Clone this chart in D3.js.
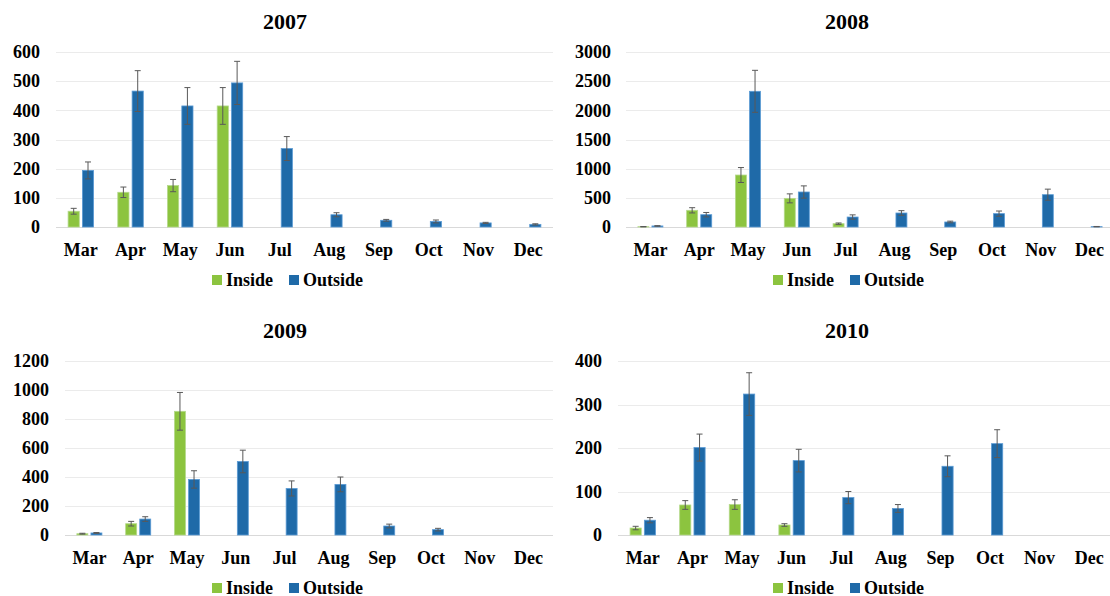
<!DOCTYPE html>
<html>
<head>
<meta charset="utf-8">
<script src="https://cdn.jsdelivr.net/npm/d3@7"></script>
<style>
  body { margin: 0; background: #fff; }
  svg text { font-family: "Liberation Serif", "Times New Roman", serif; font-weight: bold; fill: #000; }
</style>
</head>
<body>
<svg id="chart" width="1110" height="596"></svg>
<script>
	// months shared by all four panels
	var months = ["Mar", "Apr", "May", "Jun", "Jul", "Aug", "Sep", "Oct", "Nov", "Dec"];
	var seriesNames = ["Inside", "Outside"];

	var inside2007 = [54, 119, 142, 415, null, null, null, null, null, null];
	var insideErr2007 = [10, 18, 21, 63, null, null, null, null, null, null];
	var outside2007 = [194, 466, 415, 494, 269, 42, 23, 19, 14, 9];
	var outsideErr2007 = [29, 70, 63, 74, 41, 7, 3, 5, 2, 2];
	var ticks2007 = [0, 100, 200, 300, 400, 500, 600];

	var inside2008 = [5, 286, 891, 491, 57, null, null, null, null, null];
	var insideErr2008 = [3, 45, 128, 77, 12, null, null, null, null, null];
	var outside2008 = [18, 211, 2326, 600, 171, 240, 86, 229, 554, 6];
	var outsideErr2008 = [5, 38, 360, 105, 37, 40, 14, 45, 95, 3];
	var ticks2008 = [0, 500, 1000, 1500, 2000, 2500, 3000];

	var inside2009 = [9, 78, 853, null, null, null, null, null, null, null];
	var insideErr2009 = [3, 16, 130, null, null, null, null, null, null, null];
	var outside2009 = [14, 110, 383, 507, 321, 349, 62, 37, null, null];
	var outsideErr2009 = [3, 16, 60, 78, 52, 51, 13, 9, null, null];
	var ticks2009 = [0, 200, 400, 600, 800, 1000, 1200];

	var inside2010 = [16, 69, 70, 23, null, null, null, null, null, null];
	var insideErr2010 = [4, 10, 11, 3, null, null, null, null, null, null];
	var outside2010 = [34, 201, 324, 171, 86, 61, 158, 210, null, null];
	var outsideErr2010 = [6, 31, 49, 26, 14, 9, 24, 32, null, null];
	var ticks2010 = [0, 100, 200, 300, 400];

	var colors = {Inside: "#8cc43f", Outside: "#1f6aa8"};
	var strokes = {Inside: "#b4d98a", Outside: "#5b9bd5"};

	// where each panel sits on the page
	var panels = [
		{title: "2007", inside: inside2007, insideErr: insideErr2007, outside: outside2007, outsideErr: outsideErr2007, ticks: ticks2007,
		 left: 56, right: 553, top: 52, zero: 227, labelX: 40, titleX: 285, titleY: 29, legendX: 212},
		{title: "2008", inside: inside2008, insideErr: insideErr2008, outside: outside2008, outsideErr: outsideErr2008, ticks: ticks2008,
		 left: 626, right: 1114, top: 52, zero: 227, labelX: 611, titleX: 847, titleY: 29, legendX: 773},
		{title: "2009", inside: inside2009, insideErr: insideErr2009, outside: outside2009, outsideErr: outsideErr2009, ticks: ticks2009,
		 left: 65, right: 553, top: 361, zero: 535, labelX: 49, titleX: 285, titleY: 338, legendX: 212},
		{title: "2010", inside: inside2010, insideErr: insideErr2010, outside: outside2010, outsideErr: outsideErr2010, ticks: ticks2010,
		 left: 618, right: 1114, top: 361, zero: 535, labelX: 602, titleX: 847, titleY: 338, legendX: 773}
	];

	var svg = d3.select("#chart");

	panels.forEach(makePanel);

	function makePanel(p){
		var g = svg.append("g");

		var x0 = d3.scaleBand()
			.domain(months)
			.range([p.left, p.right])
			.paddingInner(0.487)
			.paddingOuter(0.2435);

		var x1 = d3.scaleBand()
			.domain(seriesNames)
			.range([0, x0.bandwidth()])
			.paddingInner(0.22);

		var y = d3.scaleLinear()
			.domain([0, p.ticks[p.ticks.length - 1]])
			.range([p.zero, p.top]);

		// gridlines
		g.selectAll(".grid")
			.data(p.ticks)
			.enter().append("line")
			.attr("x1", p.left)
			.attr("x2", p.right)
			.attr("y1", function(d){ return Math.round(y(d)) + 0.5; })
			.attr("y2", function(d){ return Math.round(y(d)) + 0.5; })
			.attr("stroke", function(d){ return d === 0 ? "#d9d9d9" : "#ebebeb"; })
			.attr("stroke-width", 1.2);

		// y tick labels
		g.selectAll(".ytick")
			.data(p.ticks)
			.enter().append("text")
			.attr("x", p.labelX)
			.attr("y", function(d){ return y(d); })
			.attr("dy", "0.35em")
			.attr("text-anchor", "end")
			.style("font-size", "18px")
			.text(function(d){ return d; });

		// month labels
		g.selectAll(".xtick")
			.data(months)
			.enter().append("text")
			.attr("x", function(d){ return x0(d) + x0.bandwidth() / 2; })
			.attr("y", p.zero + 29)
			.attr("text-anchor", "middle")
			.style("font-size", "18px")
			.text(function(d){ return d; });

		// rows of bar data
		var rows = [];
		months.forEach(function(m, i){
			rows.push({month: m, key: "Inside", value: p.inside[i], err: p.insideErr[i]});
			rows.push({month: m, key: "Outside", value: p.outside[i], err: p.outsideErr[i]});
		});
		rows = rows.filter(function(d){ return d.value !== null; });

		g.selectAll(".bar")
			.data(rows)
			.enter().append("rect")
			.attr("x", function(d){ return x0(d.month) + x1(d.key); })
			.attr("width", x1.bandwidth())
			.attr("y", function(d){ return y(d.value); })
			.attr("height", function(d){ return p.zero - y(d.value); })
			.attr("fill", function(d){ return colors[d.key]; })
			.attr("stroke", function(d){ return strokes[d.key]; })
			.attr("stroke-width", 0.8);

		// error bars
		var capW = 3;
		var eb = g.selectAll(".err")
			.data(rows.filter(function(d){ return d.err !== null; }))
			.enter().append("g")
			.attr("stroke", "#595959")
			.attr("stroke-width", 1);

		function cx(d){ return x0(d.month) + x1(d.key) + x1.bandwidth() / 2; }

		eb.append("line")
			.attr("x1", cx).attr("x2", cx)
			.attr("y1", function(d){ return y(d.value + d.err); })
			.attr("y2", function(d){ return y(Math.max(0, d.value - d.err)); });
		eb.append("line")
			.attr("x1", function(d){ return cx(d) - capW; })
			.attr("x2", function(d){ return cx(d) + capW; })
			.attr("y1", function(d){ return y(d.value + d.err); })
			.attr("y2", function(d){ return y(d.value + d.err); });
		eb.append("line")
			.attr("x1", function(d){ return cx(d) - capW; })
			.attr("x2", function(d){ return cx(d) + capW; })
			.attr("y1", function(d){ return y(Math.max(0, d.value - d.err)); })
			.attr("y2", function(d){ return y(Math.max(0, d.value - d.err)); });

		// title
		g.append("text")
			.attr("x", p.titleX)
			.attr("y", p.titleY)
			.attr("text-anchor", "middle")
			.style("font-size", "22px")
			.text(p.title);

		// legend
		var legY = p.zero + 48;
		var leg = g.selectAll(".leg")
			.data(seriesNames)
			.enter().append("g")
			.attr("transform", function(d, i){ return "translate(" + (p.legendX + i * 77) + "," + legY + ")"; });

		leg.append("rect")
			.attr("width", 10).attr("height", 10)
			.attr("fill", function(d){ return colors[d]; });

		leg.append("text")
			.attr("x", 14)
			.attr("y", 11)
			.style("font-size", "18px")
			.text(function(d){ return d; });
	}
</script>
</body>
</html>
